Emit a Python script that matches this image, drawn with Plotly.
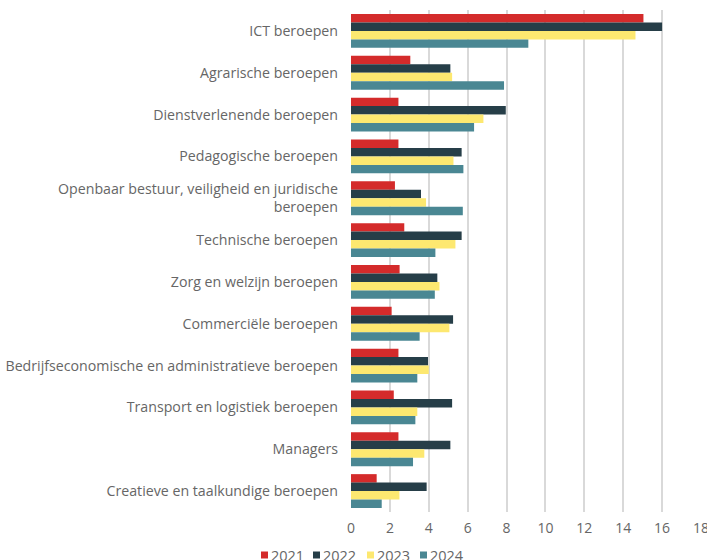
import plotly.graph_objects as go

categories = [
    "ICT beroepen",
    "Agrarische beroepen",
    "Dienstverlenende beroepen",
    "Pedagogische beroepen",
    "Openbaar bestuur, veiligheid en juridische<br>beroepen",
    "Technische beroepen",
    "Zorg en welzijn beroepen",
    "Commerciële beroepen",
    "Bedrijfseconomische en administratieve beroepen",
    "Transport en logistiek beroepen",
    "Managers",
    "Creatieve en taalkundige beroepen",
]

v2021 = [15.04, 3.05, 2.44, 2.44, 2.26, 2.74, 2.50, 2.09, 2.44, 2.20, 2.44, 1.32]
v2022 = [16.00, 5.11, 7.96, 5.69, 3.60, 5.69, 4.44, 5.25, 3.96, 5.20, 5.11, 3.89]
v2023 = [14.63, 5.20, 6.81, 5.27, 3.86, 5.37, 4.55, 5.06, 4.00, 3.41, 3.77, 2.49]
v2024 = [9.12, 7.87, 6.33, 5.78, 5.75, 4.34, 4.31, 3.53, 3.41, 3.31, 3.19, 1.58]

series = [
    ("2021", v2021, "#D42B2B"),
    ("2022", v2022, "#263E48"),
    ("2023", v2023, "#FDE870"),
    ("2024", v2024, "#4A8793"),
]

x_ticks = [0, 2, 4, 6, 8, 10, 12, 14, 16, 18]

W, H = 707, 560
ML, MR, MT, MB = 351, 6, 10, 48
PW, PH = W - ML - MR, H - MT - MB


def px_x(px):
    return (px - ML) / PW


def px_y(py):
    return (MT + PH - py) / PH


fig = go.Figure()
for name, vals, col in series:
    fig.add_trace(go.Bar(
        y=categories, x=vals, name=name, orientation="h",
        marker=dict(color=col, line=dict(width=0)),
    ))

# compact legend row (shapes + annotations)
legend_px = [261, 313, 367, 420]
for (name, vals, col), px in zip(series, legend_px):
    fig.add_shape(type="rect", xref="paper", yref="paper",
                  x0=px_x(px), x1=px_x(px + 7), y0=px_y(558.5), y1=px_y(551.5),
                  fillcolor=col, line=dict(width=0))
    fig.add_annotation(
        xref="paper", yref="paper", x=px_x(px + 8), y=px_y(555.5),
        xanchor="left", yanchor="middle", showarrow=False,
        text=name, font=dict(size=14.5, color="#666666"),
    )

font_family = "'Open Sans', sans-serif"
fig.update_layout(
    width=W, height=H,
    barmode="group", bargap=0.19, bargroupgap=0,
    plot_bgcolor="white", paper_bgcolor="white",
    margin=dict(l=ML, r=MR, t=MT, b=MB, autoexpand=False),
    font=dict(family=font_family, color="#666666", size=13),
    showlegend=False,
    xaxis=dict(range=[0, 18], tickvals=x_ticks, showgrid=True, gridcolor="#D9D9D9",
               gridwidth=1.5, zeroline=False, showline=False, ticks="",
               ticklabeloverflow="allow", ticklabelstandoff=6,
               tickfont=dict(size=14, color="#666666"), fixedrange=True),
    yaxis=dict(autorange="reversed", showgrid=False, ticks="", showline=False,
               ticklabelstandoff=12, tickfont=dict(size=14.2, color="#666666"), automargin=False),
)

fig.write_html("out.html", config={"displayModeBar": False},
               post_script="document.body.style.margin='0';")
